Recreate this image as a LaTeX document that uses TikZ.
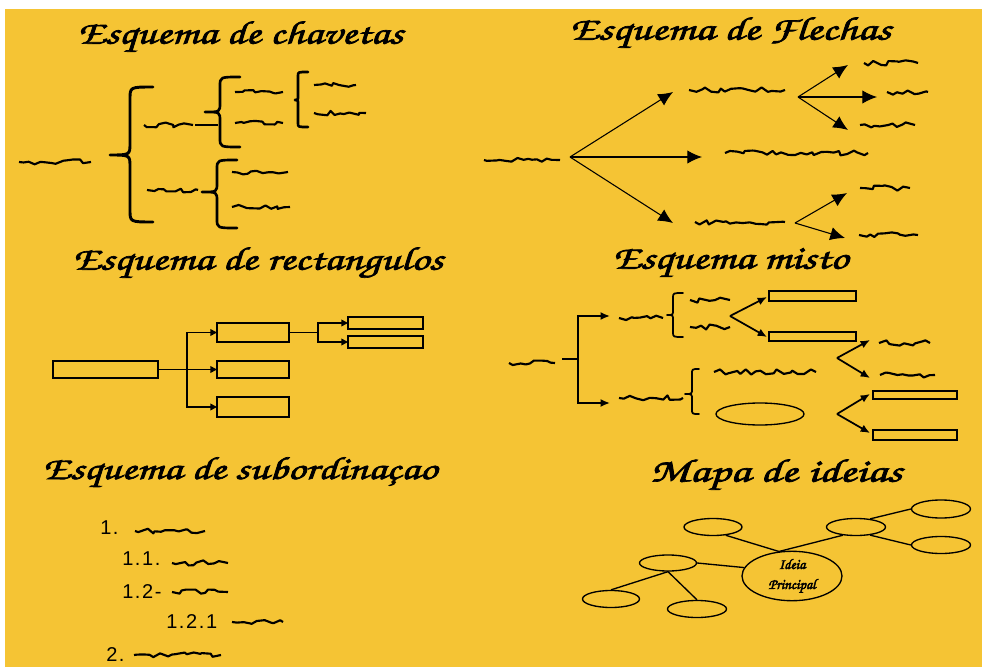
\documentclass[tikz,border=0pt]{standalone}
\usepackage[T1]{fontenc}
\usepackage{fontspec}
\usepackage{graphicx}
\usetikzlibrary{arrows.meta,shapes.geometric,decorations.pathmorphing}
\newfontfamily\numfont[LetterSpace=8]{Liberation Sans}
\newcommand\zcfont{\fontencoding{T1}\fontfamily{pzc}\fontseries{mb}\fontshape{it}\selectfont}
\definecolor{bgyel}{RGB}{245,196,52}
\newcommand\mybrace[8]{% xe xs xt yt ym yb r style
 \draw[#8,line cap=round,line join=round] (#1,#4) .. controls (#2,#4) .. (#2,{#4+#7}) -- (#2,{#5-#7}) .. controls (#2,#5) .. (#3,#5) .. controls (#2,#5) .. (#2,{#5+#7}) -- (#2,{#6-#7}) .. controls (#2,#6) .. (#1,#6);}
\newcommand\strk[2]{\special{pdf:literal direct 2 Tr #1 w}#2\special{pdf:literal direct 0 Tr}}
\newcommand\ttltext[3]{\resizebox*{#1pt}{#2pt}{\strk{0.2}{\zcfont #3}}}
\tikzset{
 sqline/.style={line width=1.6pt, decorate, decoration={random steps, segment length=4pt, amplitude=2pt}, line join=round},
 sq/.style={minimum width={#1*0.75pt}, minimum height=14pt, inner sep=0pt, outer sep=0pt,
   path picture={\draw[sqline] ([xshift=1.5pt]path picture bounding box.west) -- ([xshift=-1.5pt]path picture bounding box.east);}},
 rbox/.style 2 args={draw, line width=1.3pt, minimum width={#1*0.75pt}, minimum height={#2*0.75pt}, inner sep=0pt, outer sep=0pt},
 ell/.style 2 args={ellipse, draw, line width=1pt, minimum width={#1*0.75pt}, minimum height={#2*0.75pt}, inner sep=0pt},
 ttl/.style={inner sep=0pt},
 flarrow/.style={-{Latex[length=11pt,width=10pt]}, line width=0.8pt},
 rline/.style={line width=1.2pt},
 rarrow/.style={-{Triangle[length=5pt,width=5pt]}, line width=1.2pt},
 marrow/.style={-{Latex[length=7pt,width=6pt]}, line width=1.3pt},
 mline/.style={line width=1.3pt},
 mapline/.style={line width=1pt},
 numlab/.style={anchor=west, inner sep=0pt, font=\numfont\fontsize{15}{17}\selectfont},
}
\begin{document}
\begin{tikzpicture}[x=0.75pt,y=-0.75pt]
\pgfmathsetseed{12345}
\useasboundingbox (0,0) rectangle (982,667);
\fill[white] (0,0) rectangle (982,667);
\fill[bgyel] (5,9) rectangle (982,667);

% titles
\node[ttl] (t1) at (240.5,37) {\ttltext{243.75}{25}{Esquema de chavetas}};
\node[ttl] (t2) at (730.5,33) {\ttltext{240.75}{25}{Esquema de Flechas}};
\node[ttl] (t3) at (258,263) {\ttltext{277.5}{25}{Esquema de rectangulos}};
\node[ttl] (t4) at (730.5,263.5) {\ttltext{176.25}{23}{Esquema misto}};
\node[ttl] (t5) at (240,472.5) {\ttltext{295.5}{24.5}{Esquema de subordina\c{c}ao}};
\node[ttl] (t6) at (776,475) {\ttltext{189}{25}{Mapa de ideias}};

% ---------- Esquema de chavetas ----------
\node[sq=76] (p1a) at (55,162) {};
\mybrace{153}{130}{110}{87}{155}{222}{12}{line width=2.2pt}
\node[sq=53] (p1b) at (168.5,125) {};
\coordinate (p1bs) at (218,125);
\draw[line width=1.3pt] (p1b.east) -- (p1bs);
\mybrace{240}{220}{205}{77}{112}{147}{9}{line width=2pt}
\node[sq=52] (p1c) at (259,92) {};
\node[sq=52] (p1d) at (259,123) {};
\mybrace{308}{298}{295}{72}{100}{127}{4}{line width=2pt}
\node[sq=46] (p1e) at (335,85) {};
\node[sq=56] (p1f) at (340,113) {};
\node[sq=55] (p1g) at (172.5,190) {};
\mybrace{237}{217}{202}{160}{192}{228}{9}{line width=2pt}
\node[sq=60] (p1h) at (260,172) {};
\node[sq=62] (p1i) at (261,207) {};

% ---------- Esquema de Flechas ----------
\node[sq=80] (f0) at (522,160) {};
\coordinate (fA) at (570,157);
\coordinate (ft1) at (673,92);
\coordinate (ft2) at (702,157);
\coordinate (ft3) at (673,223);
\draw[flarrow] (fA) -- (ft1);
\draw[flarrow] (fA) -- (ft2);
\draw[flarrow] (fA) -- (ft3);
\node[sq=100] (f1) at (737,90) {};
\node[sq=147] (f2) at (796.5,153) {};
\node[sq=94] (f3) at (740,222) {};
\coordinate (fB) at (798,97);
\coordinate (fbt1) at (848,65);
\coordinate (fbt2) at (877,97);
\coordinate (fbt3) at (848,130);
\draw[flarrow] (fB) -- (fbt1);
\draw[flarrow] (fB) -- (fbt2);
\draw[flarrow] (fB) -- (fbt3);
\node[sq=58] (f4) at (891,63) {};
\node[sq=45] (f5) at (907.5,92) {};
\node[sq=59] (f6) at (887.5,125) {};
\coordinate (fC) at (795,223);
\coordinate (fct1) at (847,193);
\coordinate (fct2) at (845,238);
\draw[flarrow] (fC) -- (fct1);
\draw[flarrow] (fC) -- (fct2);
\node[sq=54] (f7) at (885,188) {};
\node[sq=63] (f8) at (888.5,235) {};

% ---------- Esquema de rectangulos ----------
\node[rbox={105}{17}] (r0) at (105.5,369.5) {};
\node[rbox={72}{19}] (r1) at (253,332.5) {};
\node[rbox={72}{17}] (r2) at (253,369.5) {};
\node[rbox={72}{20}] (r3) at (253,407) {};
\node[rbox={75}{12}] (r4) at (385.5,323) {};
\node[rbox={75}{12}] (r5) at (385.5,342) {};
\coordinate (rj1) at (187,369.5);
\coordinate (rj2) at (318,332.5);
\draw[rline] (r0.east) -- (rj1);
\draw[rarrow] (rj1) |- (r1.west);
\draw[rarrow] (rj1) -- (r2.west);
\draw[rarrow] (rj1) |- (r3.west);
\draw[rline] (r1.east) -- (rj2);
\draw[rarrow] (rj2) |- (r4.west);
\draw[rarrow] (rj2) |- (r5.west);

% ---------- Esquema misto ----------
\node[sq=50] (m0) at (532,363) {};
\coordinate (mA) at (562,359);
\coordinate (mJ) at (578,359);
\coordinate (mt1) at (610,316);
\coordinate (mt2) at (610,403);
\draw[mline] (mA) -- (mJ);
\draw[marrow] (mJ) |- (mt1);
\draw[marrow] (mJ) |- (mt2);
\node[sq=48] (m1) at (641,318) {};
\mybrace{683}{673}{667}{293}{315}{337}{5}{line width=1.3pt}
\node[sq=44] (m3) at (710,300) {};
\node[sq=44] (m4) at (710,327) {};
\coordinate (mB) at (730,316);
\coordinate (mbt1) at (767,297);
\coordinate (mbt2) at (767,337);
\draw[marrow] (mB) -- (mbt1);
\draw[marrow] (mB) -- (mbt2);
\node[rbox={87}{10}] (ma) at (812.5,296) {};
\node[rbox={87}{9}] (mb) at (812.5,336.5) {};
\coordinate (mC) at (837,358);
\coordinate (mct1) at (870,340);
\coordinate (mct2) at (870,378);
\draw[marrow] (mC) -- (mct1);
\draw[marrow] (mC) -- (mct2);
\node[sq=55] (m5) at (904.5,343) {};
\node[sq=59] (m6) at (907.5,375) {};
\node[sq=68] (m2) at (651,398) {};
\mybrace{699}{692}{685}{369}{394}{414}{5}{line width=1.3pt}
\node[sq=106] (m7) at (765,372) {};
\node[ell={88}{22}] (me) at (760,414) {};
\coordinate (mD) at (837,414);
\coordinate (mdt1) at (870,394);
\coordinate (mdt2) at (870,433);
\draw[marrow] (mD) -- (mdt1);
\draw[marrow] (mD) -- (mdt2);
\node[rbox={84}{8}] (mc) at (915,395) {};
\node[rbox={84}{10}] (md) at (915,435) {};

% ---------- Esquema de subordinacao ----------
\node[numlab] (n1) at (100,528) {1.};
\node[sq=74] (s1) at (170,531) {};
\node[numlab] (n2) at (122,559) {1.1.};
\node[sq=60] (s2) at (200,563) {};
\node[numlab] (n3) at (122,592) {1.2-};
\node[sq=60] (s3) at (200,592) {};
\node[numlab] (n4) at (166,622) {1.2.1};
\node[sq=55] (s4) at (257.5,622) {};
\node[numlab] (n5) at (106,655) {2.};
\node[sq=91] (s5) at (177.5,655) {};

% ---------- Mapa de ideias ----------
\node[ell={100}{46}, align=center, font=\zcfont\fontsize{11}{15}\selectfont] (c) at (792,576) {\strk{0.3}{Ideia}\\\strk{0.3}{Principal}};
\node[ell={58}{17}] (e1) at (713,527) {};
\node[ell={57}{16}] (e2) at (668,563) {};
\node[ell={57}{17}] (e3) at (611,599) {};
\node[ell={59}{17}] (e4) at (697,609) {};
\node[ell={59}{17}] (e5) at (856,527) {};
\node[ell={59}{18}] (e6) at (941,509) {};
\node[ell={59}{17}] (e7) at (941,545) {};
\draw[mapline] (e1.-33) -- (c.118);
\draw[mapline] (e5.-148) -- (c.118);
\draw[mapline] (e2.east) -- (c.170);
\draw[mapline] (e2.south) -- (e3.north);
\draw[mapline] (e2.south) -- (e4.north);
\draw[mapline] (e5.30) -- (e6.west);
\draw[mapline] (e5.-30) -- (e7.west);
\end{tikzpicture}
\end{document}
